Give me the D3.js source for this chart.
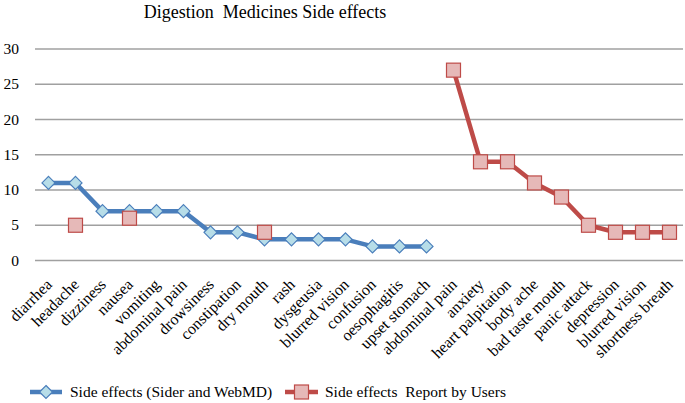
<!DOCTYPE html>
<html><head><meta charset="utf-8">
<script src="https://cdn.jsdelivr.net/npm/d3@7"></script>
<style>body{margin:0;background:#fff}svg{display:block}</style>
</head><body><svg id="c" width="685" height="403" font-family="'Liberation Serif', 'Times New Roman', Times, serif"></svg>
<script>
const categories = ["diarrhea","headache","dizziness","nausea","vomiting","abdominal pain","drowsiness","constipation","dry mouth","rash","dysgeusia","blurred vision","confusion","oesophagitis","upset stomach","abdominal pain ","anxiety","heart palpitation","body ache","bad taste mouth","panic attack","depression","blurred vision ","shortness breath"];
const siderWebMD = [11,11,7,7,7,7,4,4,3,3,3,3,2,2,2,null,null,null,null,null,null,null,null,null];
const userReports = [null,5,null,6,null,null,null,null,4,null,null,null,null,null,null,27,14,14,11,9,5,4,4,4];
const yTicks = [0,5,10,15,20,25,30];
const seriesNames = ["Side effects (Sider and WebMD)","Side effects  Report by Users"];

const svg = d3.select("#c");
const FONT = "'Liberation Serif', 'Times New Roman', Times, serif";
const x = d3.scaleBand().domain(categories).range([35,683]);
const y = d3.scaleLinear().domain([0,30]).range([260.5,49]);
const blue = "#4a7ebb", blueFill = "#b7dde8", red = "#be4b48", redFill = "#e6b9b8";

svg.append("text").attr("x",265).attr("y",17.5).attr("text-anchor","middle").attr("font-family",FONT)
  .attr("font-size",18).attr("xml:space","preserve").style("white-space","pre").text("Digestion  Medicines Side effects");

// grid
svg.append("g").selectAll("line").data(yTicks).join("line")
  .attr("x1",35).attr("x2",683).attr("y1",d=>y(d)).attr("y2",d=>y(d))
  .attr("stroke","#a0a0a0").attr("stroke-width",1.3);
svg.append("g").selectAll("text").data(yTicks).join("text")
  .attr("x",19).attr("y",d=>y(d)).attr("dy","0.33em").attr("text-anchor","end").attr("font-family",FONT)
  .attr("font-size",15.5).text(d=>d);

// category labels
svg.append("g").selectAll("text").data(categories).join("text")
  .attr("transform",d=>`translate(${x(d)+x.bandwidth()/2+4.5},285.5) rotate(-45)`)
  .attr("text-anchor","end").attr("font-family",FONT).attr("font-size",16).text(d=>d.trim());

const cx = (d,i)=>x(categories[i])+x.bandwidth()/2;
const line = d3.line().defined(d=>d!=null).x((d,i)=>cx(d,i)).y(d=>y(d));

svg.append("path").datum(siderWebMD).attr("d",line).attr("fill","none").attr("stroke",blue).attr("stroke-width",4.5).attr("stroke-linejoin","round");
svg.append("path").datum(userReports).attr("d",line).attr("fill","none").attr("stroke",red).attr("stroke-width",4.5).attr("stroke-linejoin","round");

const diamond = (g)=>g.append("path").attr("d","M0,-6.5L6.5,0L0,6.5L-6.5,0Z").attr("fill",blueFill).attr("stroke",blue).attr("stroke-width",1.2);
siderWebMD.forEach((v,i)=>{ if(v==null) return;
  const g = svg.append("g").attr("transform",`translate(${cx(v,i)},${y(v)})`); diamond(g); });
const square = (g)=>g.append("rect").attr("x",-7).attr("y",-7).attr("width",14).attr("height",14).attr("fill",redFill).attr("stroke",red).attr("stroke-width",1.2);
userReports.forEach((v,i)=>{ if(v==null) return;
  const g = svg.append("g").attr("transform",`translate(${cx(v,i)},${y(v)})`); square(g); });

// legend
const ly = 392;
svg.append("line").attr("x1",30).attr("x2",62).attr("y1",ly).attr("y2",ly).attr("stroke",blue).attr("stroke-width",4.5);
diamond(svg.append("g").attr("transform",`translate(46,${ly})`));
svg.append("text").attr("x",70).attr("y",ly).attr("dy","0.33em").attr("font-family",FONT).attr("font-size",15.5).text(seriesNames[0]);
svg.append("line").attr("x1",285).attr("x2",318).attr("y1",ly).attr("y2",ly).attr("stroke",red).attr("stroke-width",4.5);
square(svg.append("g").attr("transform",`translate(301.5,${ly})`));
svg.append("text").attr("x",325).attr("y",ly).attr("dy","0.33em").attr("font-family",FONT).attr("font-size",15.5).attr("xml:space","preserve").style("white-space","pre").text(seriesNames[1]);
</script></body></html>
